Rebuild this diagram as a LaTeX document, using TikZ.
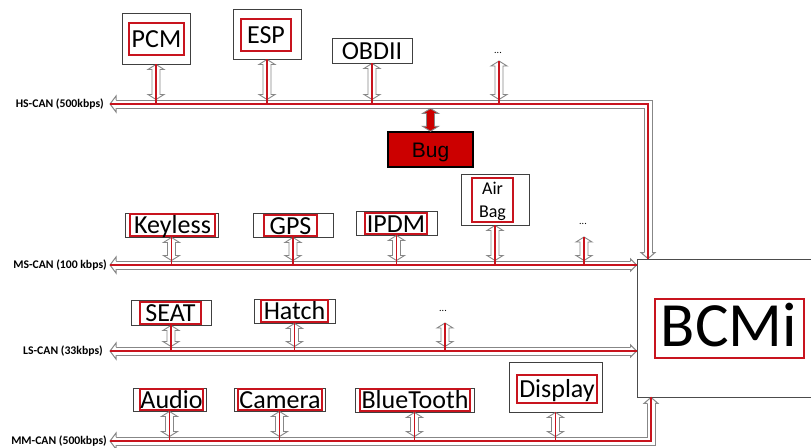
\documentclass[tikz,border=0pt]{standalone}
\usepackage{fontspec}
\setmainfont{Carlito}
\newfontfamily\arialfont{Liberation Sans}
\usetikzlibrary{calc}

\definecolor{canred}{RGB}{200,20,30}
\definecolor{bugred}{RGB}{204,0,0}
\definecolor{edgegray}{RGB}{135,135,135}

\tikzset{
  modbox/.style={draw=black!75, line width=0.9pt, fill=white, inner sep=0pt},
  redbox/.style={draw=canred, line width=1.3pt, inner sep=0pt},
  modtext/.style={inner sep=0pt, text height=17pt, text depth=0pt,
                  font=\fontsize{26}{28}\selectfont},
  buslabel/.style={anchor=east, inner sep=0pt,
                   font=\bfseries\fontsize{11.7}{13}\selectfont},
  dotlabel/.style={inner sep=0pt, font=\fontsize{10}{10}\selectfont},
  busbody/.style={draw=edgegray, line width=1pt, double=white,
                  double distance=7pt, line join=miter},
  redline/.style={draw=canred, line width=1.5pt},
  % hollow two-headed link, drawn along the segment start -> target
  hollowlink/.style={draw=edgegray, line width=0.9pt, fill=white, to path={
      let \p1=(\tikztostart), \p2=(\tikztotarget),
          \n1={atan2(\y2-\y1,\x2-\x1)}, \n2={veclen(\x2-\x1,\y2-\y1)} in
      {[shift={(\p1)}, rotate=\n1]
        (0,0) -- (5,8) -- (5,4) -- (\n2-5,4) -- (\n2-5,8) -- (\n2,0)
        -- (\n2-5,-8) -- (\n2-5,-4) -- (5,-4) -- (5,-8) -- cycle}}},
  % hollow arrow tip: tip at the start point, opening towards the target
  hollowtip/.style={draw=edgegray, line width=1pt, fill=white, to path={
      let \p1=(\tikztostart), \p2=(\tikztotarget),
          \n1={atan2(\y2-\y1,\x2-\x1)} in
      {[shift={(\p1)}, rotate=\n1]
        (6,4) -- (6,#1) -- (0,0) -- (6,-#1) -- (6,-4)}}},
  hollowtip/.default=8,
}

% name, outer centre, outer w, outer h, inner centre, inner w, inner h, text
\newcommand{\canunit}[8]{%
  \node[modbox, minimum width=#3pt, minimum height=#4pt] (#1) at (#2) {};
  \node[redbox, minimum width=#6pt, minimum height=#7pt] (#1-r) at (#5) {};
  \node[modtext] (#1-t) at (#5) {#8};
}

\begin{document}
\begin{tikzpicture}[x=1pt,y=-1pt]
\useasboundingbox[fill=white] (0,0) rectangle (811,447);

% ---- the body control module ----
\node[draw=black!70, line width=0.8pt, fill=white, inner sep=0pt,
      minimum width=178pt, minimum height=138pt] (bcmi) at (726,328) {};
\node[redbox, minimum width=149pt, minimum height=59pt] (bcmi-r) at (729.5,328.5) {};
\node[inner sep=0pt, text height=40pt, text depth=0pt,
      font=\fontsize{63}{64}\selectfont] (bcmi-t) at (729,326) {BCMi};

% ---- bus end points ----
\coordinate (hs-l) at (110,104);   \coordinate (hs-r) at (648,104);
\coordinate (hs-top) at (110,99.5); \coordinate (hs-bot) at (110,108.5);
\coordinate (ms-l) at (110,265);   \coordinate (ms-top) at (110,260.5);
\coordinate (ls-l) at (110,351);   \coordinate (ls-top) at (110,346.5);
\coordinate (mm-l) at (110,441);   \coordinate (mm-r) at (651,441);
\coordinate (mm-top) at (110,436.5);

% ---- bus labels ----
\node[buslabel] (hs-lab) at (104,104) {HS-CAN (500kbps)};
\node[buslabel] (ms-lab) at (107,265) {MS-CAN (100 kbps)};
\node[buslabel] (ls-lab) at (103,351) {LS-CAN (33kbps)};
\node[buslabel] (mm-lab) at (107,441) {MM-CAN (500kbps)};

% ---- HS-CAN units ----
\canunit{pcm}{156,38.5}{68}{51}{156.5,39}{55}{32}{PCM}
\canunit{esp}{267,34}{68}{50}{266,35}{50}{32}{ESP}
\node[modbox, minimum width=80pt, minimum height=25pt] (obd) at (372,50.5) {};
\node[modtext] (obd-t) at (372,51) {OBDII};
\node[dotlabel] (hs-dots) at (498,53) {...};
\coordinate (hs-dots-c) at (499,61);

% ---- injected node ----
\node[draw=black, line width=1.5pt, fill=bugred, inner sep=0pt,
      minimum width=85pt, minimum height=35pt, text height=15pt, text depth=0pt,
      font=\arialfont\fontsize{21}{22}\selectfont] (bug) at (430.5,149.5) {Bug};

% ---- MS-CAN units ----
\canunit{keyless}{171.5,225}{93}{24}{172.5,225}{85}{22}{Keyless}
\canunit{gps}{293,225}{80}{24}{290.5,225.5}{53}{21}{GPS}
\canunit{ipdm}{396.5,223}{81}{24}{396,223.5}{62}{21}{IPDM}
\node[modbox, minimum width=68pt, minimum height=51pt] (airbag) at (495,199.5) {};
\node[redbox, minimum width=41pt, minimum height=44pt] (airbag-r) at (492.5,200) {};
\node[inner sep=0pt, align=center, font=\fontsize{18}{23}\selectfont]
      (airbag-t) at (492.5,201.5) {Air\\Bag};
\node[dotlabel] (ms-dots) at (583,224) {...};
\coordinate (ms-dots-c) at (584,237);

% ---- LS-CAN units ----
\canunit{seat}{171,312.5}{80}{25}{170.5,313}{61}{22}{SEAT}
\canunit{hatch}{294.5,311}{81}{24}{294.5,311}{67}{22}{Hatch}
\node[dotlabel] (ls-dots) at (443,311) {...};
\coordinate (ls-dots-c) at (445,323);

% ---- MM-CAN units ----
\canunit{audio}{169.5,399.5}{73}{23}{171.5,399.5}{63}{21}{Audio}
\canunit{camera}{279.5,399.5}{91}{23}{280,399.5}{84}{21}{Camera}
\canunit{bluetooth}{414.5,400}{119}{24}{415,400}{110}{22}{BlueTooth}
\canunit{display}{555.5,387}{93}{50}{557,389}{80}{28}{Display}

% ---- bus bodies ----
\draw[busbody, shorten <=6pt, shorten >=6pt] (hs-l) -- (hs-r) -- (hs-r |- bcmi.north);
\draw[busbody, shorten <=6pt, shorten >=6pt] (ms-l) -- (bcmi.west |- ms-l);
\draw[busbody, shorten <=6pt, shorten >=6pt] (ls-l) -- (bcmi.west |- ls-l);
\draw[busbody, shorten <=6pt, shorten >=6pt] (mm-l) -- (mm-r) -- (mm-r |- bcmi.south);

% ---- bus arrow tips ----
\draw[hollowtip] (hs-l) to (hs-r);
\draw[hollowtip=7] (hs-r |- bcmi.north) to (hs-r);
\draw[hollowtip] (ms-l) to (bcmi.west |- ms-l);
\draw[hollowtip=6] (bcmi.west |- ms-l) to (ms-l);
\draw[hollowtip] (ls-l) to (bcmi.west |- ls-l);
\draw[hollowtip=6] (bcmi.west |- ls-l) to (ls-l);
\draw[hollowtip] (mm-l) to (mm-r);
\draw[hollowtip=7] (mm-r |- bcmi.south) to (mm-r);

% ---- unit links ----
\foreach \m in {pcm,esp,obd}
  \draw[hollowlink] (\m.south) to (\m.south |- hs-top);
\draw[hollowlink] (hs-dots-c) to (hs-dots-c |- hs-top);
\draw[hollowlink, fill=bugred] (bug.north) to (bug.north |- hs-bot);
\foreach \m in {keyless,gps,ipdm,airbag}
  \draw[hollowlink] (\m.south) to (\m.south |- ms-top);
\draw[hollowlink] (ms-dots-c) to (ms-dots-c |- ms-top);
\foreach \m in {seat,hatch}
  \draw[hollowlink] (\m.south) to (\m.south |- ls-top);
\draw[hollowlink] (ls-dots-c) to (ls-dots-c |- ls-top);
\foreach \m in {audio,camera,bluetooth,display}
  \draw[hollowlink] (\m.south) to (\m.south |- mm-top);

% ---- red signal lines ----
\draw[redline] (hs-l) -- (hs-r) -- (hs-r |- bcmi.north);
\draw[redline] (ms-l) -- (bcmi.west |- ms-l);
\draw[redline] (ls-l) -- (bcmi.west |- ls-l);
\draw[redline] (mm-l) -- (mm-r) -- (mm-r |- bcmi.south);
\foreach \m in {pcm,esp,obd}
  \draw[redline] (\m.south) -- (\m.south |- hs-l);
\draw[redline] (hs-dots-c) -- (hs-dots-c |- hs-l);
\foreach \m in {keyless,gps,ipdm,airbag}
  \draw[redline] (\m.south) -- (\m.south |- ms-l);
\draw[redline] (ms-dots-c) -- (ms-dots-c |- ms-l);
\foreach \m in {seat,hatch}
  \draw[redline] (\m.south) -- (\m.south |- ls-l);
\draw[redline] (ls-dots-c) -- (ls-dots-c |- ls-l);
\foreach \m in {audio,camera,bluetooth,display}
  \draw[redline] (\m.south) -- (\m.south |- mm-l);
\end{tikzpicture}
\end{document}
